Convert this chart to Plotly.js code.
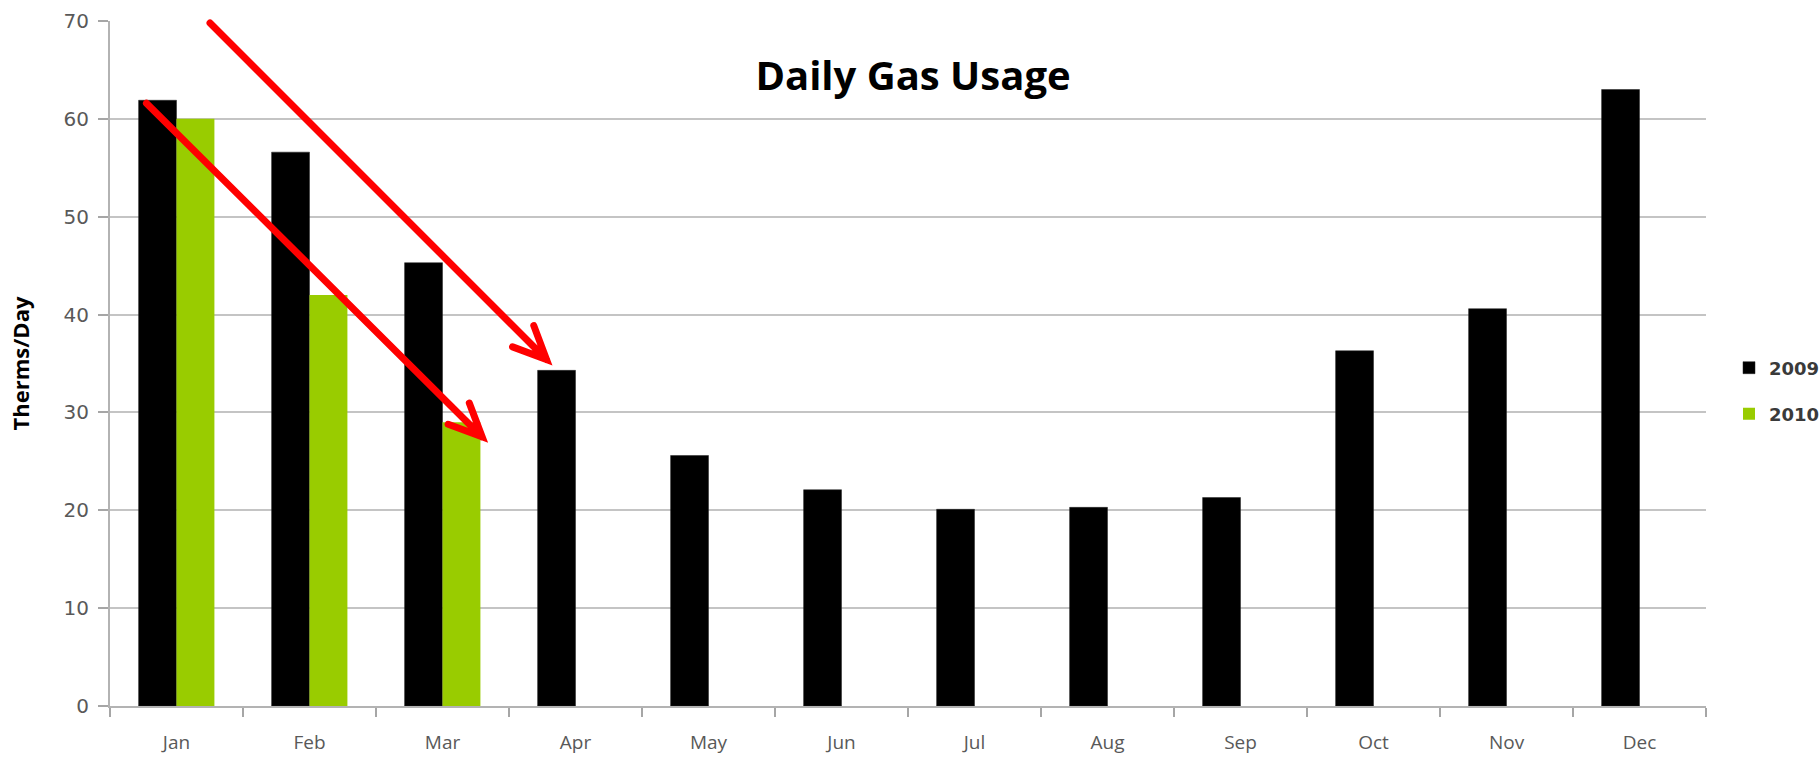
<!DOCTYPE html>
<html>
<head>
<meta charset="utf-8">
<script src="https://cdn.plot.ly/plotly-3.0.1.min.js"></script>
<style>
  html, body { margin: 0; padding: 0; background: #fff; }
  #chart { width: 1820px; height: 760px; }
  .shapelayer path { stroke-linecap: round; stroke-linejoin: miter; }
</style>
</head>
<body>
<div id="chart"></div>
<script>
// ---- data ----
var months = ["Jan", "Feb", "Mar", "Apr", "May", "Jun", "Jul", "Aug", "Sep", "Oct", "Nov", "Dec"];
var usage2009 = [61.9, 56.6, 45.3, 34.3, 25.6, 22.1, 20.1, 20.3, 21.3, 36.3, 40.6, 63.0];
var months2010 = ["Jan", "Feb", "Mar"];
var usage2010 = [60.0, 42.0, 29.0];
var yTicks = [0, 10, 20, 30, 40, 50, 60, 70];
// arrow annotations: [category index, value] for tail and tip
var arrowUpperTail = [0.252, 69.8];
var arrowUpperTip = [2.782, 35.4];
var arrowLowerTail = [-0.226, 61.6];
var arrowLowerTip = [2.298, 27.5];

// ---- layout geometry ----
var W = 1820, H = 760;
var M = { l: 110, r: 114, t: 21, b: 54, autoexpand: false };
var PW = W - M.l - M.r, PH = H - M.t - M.b;
var yMax = 70;

function arrowPath(tail, tip) {
  var n = months.length;
  function xp(i) { return (i + 0.5) / n; }
  function yp(v) { return v / yMax; }
  var tx = xp(tail[0]), ty = yp(tail[1]);
  var hx = xp(tip[0]), hy = yp(tip[1]);
  var dx = (hx - tx) * PW, dy = (hy - ty) * PH;
  var len = Math.sqrt(dx * dx + dy * dy);
  var ux = dx / len, uy = dy / len;
  var nx = -uy, ny = ux;
  var L = 33, HW = 15;
  var a1x = hx + (-L * ux + HW * nx) / PW, a1y = hy + (-L * uy + HW * ny) / PH;
  var a2x = hx + (-L * ux - HW * nx) / PW, a2y = hy + (-L * uy - HW * ny) / PH;
  return "M" + tx + "," + ty + " L" + hx + "," + hy +
         " M" + a1x + "," + a1y + " L" + hx + "," + hy + " L" + a2x + "," + a2y;
}

var traces = [
  {
    type: "bar", name: "2009", x: months, y: usage2009,
    marker: { color: "#000000", line: { color: "#222", width: 0.5 } },
    legend: "legend", hoverinfo: "x+y+name"
  },
  {
    type: "bar", name: "2010", x: months2010, y: usage2010,
    marker: { color: "#99CC00", line: { color: "#99CC00", width: 0 } },
    legend: "legend2", hoverinfo: "x+y+name"
  }
];

var legendFont = { family: "DejaVu Sans", size: 18, color: "#3a3a3a", weight: 700 };
var legendLeft = 1729;

var layout = {
  width: W, height: H,
  margin: M,
  paper_bgcolor: "#ffffff", plot_bgcolor: "#ffffff",
  barmode: "group", bargap: 0.43, bargroupgap: 0,
  title: {
    text: "Daily Gas Usage",
    font: { family: "Open Sans", size: 40, color: "#000000", weight: 700 },
    x: 913 / W, xanchor: "center",
    y: 1 - 76 / H, yanchor: "middle", yref: "container"
  },
  xaxis: {
    type: "category",
    categoryorder: "array", categoryarray: months,
    range: [-0.5, 11.5],
    showline: true, linecolor: "#b3b3b3", linewidth: 2,
    ticks: "outside", tickson: "boundaries", ticklen: 9, tickwidth: 1.5, tickcolor: "#a6a6a6",
    tickfont: { family: "Open Sans", size: 19, color: "#595959" },
    ticklabelstandoff: 18,
    showgrid: false, zeroline: false, fixedrange: true
  },
  yaxis: {
    range: [0, yMax],
    tickvals: yTicks,
    showline: true, linecolor: "#b3b3b3", linewidth: 2,
    ticks: "outside", ticklen: 10, tickwidth: 1.5, tickcolor: "#a6a6a6",
    tickfont: { family: "DejaVu Sans", size: 20, color: "#595959" },
    ticklabelstandoff: 5,
    showgrid: true, gridcolor: "#c4c4c4", gridwidth: 2,
    zeroline: false, fixedrange: true,
    title: {
      text: "Therms/Day",
      font: { family: "Open Sans", size: 22, color: "#000000", weight: 700 },
      standoff: 28
    }
  },
  legend: {
    x: (legendLeft - M.l) / PW, xanchor: "left",
    y: (PH + M.t - 368) / PH, yanchor: "middle",
    font: legendFont, bgcolor: "rgba(0,0,0,0)", borderwidth: 0
  },
  legend2: {
    x: (legendLeft - M.l) / PW, xanchor: "left",
    y: (PH + M.t - 414) / PH, yanchor: "middle",
    font: legendFont, bgcolor: "rgba(0,0,0,0)", borderwidth: 0
  },
  shapes: [
    { type: "path", xref: "paper", yref: "paper", path: arrowPath(arrowUpperTail, arrowUpperTip),
      line: { color: "#ff0000", width: 7 }, fillcolor: "rgba(0,0,0,0)", layer: "above" },
    { type: "path", xref: "paper", yref: "paper", path: arrowPath(arrowLowerTail, arrowLowerTip),
      line: { color: "#ff0000", width: 7 }, fillcolor: "rgba(0,0,0,0)", layer: "above" }
  ],
  showlegend: true
};

Plotly.newPlot("chart", traces, layout, { displayModeBar: false });
</script>
</body>
</html>
